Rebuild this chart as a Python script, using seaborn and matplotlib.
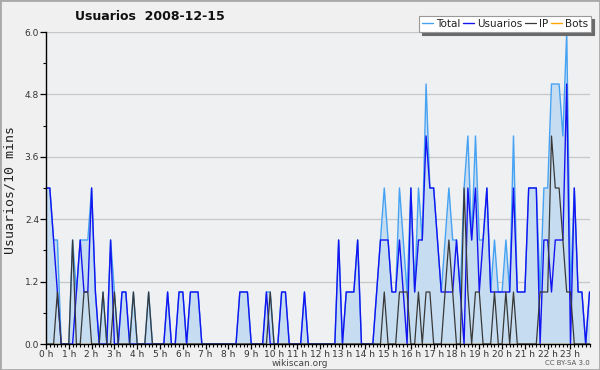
import matplotlib
matplotlib.use("Agg")
import numpy as np
import pandas as pd
import seaborn as sns
import matplotlib.pyplot as plt
from matplotlib.patches import Rectangle
from matplotlib.ticker import FixedLocator, MultipleLocator

# ---- data (users per 10-minute slot, 144 slots for the day) ----
hour_labels = [f"{h} h" for h in range(24)]

total = [3, 3, 2, 2, 0, 0, 0, 2, 1, 2, 2, 2, 3, 1, 0, 1, 0, 2, 1, 0, 1, 1, 0, 1,
         0, 0, 0, 1, 0, 0, 0, 0, 1, 0, 0, 1, 1, 0, 1, 1, 1, 0, 0, 0, 0, 0, 0, 0,
         0, 0, 0, 1, 1, 1, 0, 0, 0, 0, 1, 1, 0, 0, 1, 1, 0, 0, 0, 0, 1, 0, 0, 0,
         0, 0, 0, 0, 0, 2, 0, 1, 1, 1, 2, 0, 0, 0, 0, 1, 2, 3, 2, 1, 1, 3, 2, 1,
         3, 1, 3, 2, 5, 3, 3, 2, 1, 2, 3, 2, 2, 1, 3, 4, 2, 4, 2, 2, 3, 1, 2, 1,
         1, 2, 1, 4, 1, 1, 1, 3, 3, 3, 1, 3, 3, 5, 5, 5, 4, 6, 1, 3, 1, 1, 0, 1]

usuarios = [3, 3, 2, 1, 0, 0, 0, 0, 1, 2, 1, 1, 3, 1, 0, 0, 0, 2, 0, 0, 1, 1, 0, 0,
            0, 0, 0, 0, 0, 0, 0, 0, 1, 0, 0, 1, 1, 0, 1, 1, 1, 0, 0, 0, 0, 0, 0, 0,
            0, 0, 0, 1, 1, 1, 0, 0, 0, 0, 1, 0, 0, 0, 1, 1, 0, 0, 0, 0, 1, 0, 0, 0,
            0, 0, 0, 0, 0, 2, 0, 1, 1, 1, 2, 0, 0, 0, 0, 1, 2, 2, 2, 1, 1, 2, 1, 0,
            3, 1, 2, 2, 4, 3, 3, 2, 1, 1, 1, 1, 2, 1, 0, 3, 2, 3, 1, 2, 3, 1, 1, 1,
            1, 1, 1, 3, 1, 1, 1, 3, 3, 3, 0, 2, 2, 1, 2, 2, 2, 5, 0, 3, 1, 1, 0, 1]

ip = [0, 0, 0, 1, 0, 0, 0, 2, 0, 0, 1, 1, 0, 0, 0, 1, 0, 0, 1, 0, 0, 0, 0, 1,
      0, 0, 0, 1, 0, 0, 0, 0, 0, 0, 0, 0, 0, 0, 0, 0, 0, 0, 0, 0, 0, 0, 0, 0,
      0, 0, 0, 0, 0, 0, 0, 0, 0, 0, 0, 1, 0, 0, 0, 0, 0, 0, 0, 0, 0, 0, 0, 0,
      0, 0, 0, 0, 0, 0, 0, 0, 0, 0, 0, 0, 0, 0, 0, 0, 0, 1, 0, 0, 0, 1, 1, 1,
      0, 0, 1, 0, 1, 1, 0, 0, 0, 1, 2, 1, 0, 0, 3, 1, 0, 1, 1, 0, 0, 0, 1, 0,
      0, 1, 0, 1, 0, 0, 0, 0, 0, 0, 1, 1, 1, 4, 3, 3, 2, 1, 1, 0, 0, 0, 0, 0]

bots = [0, 0, 0, 0, 0, 0, 0, 0, 0, 0, 0, 0, 0, 0, 0, 0, 0, 0, 0, 0, 0, 0, 0, 0,
        0, 0, 0, 0, 0, 0, 0, 0, 0, 0, 0, 0, 0, 0, 0, 0, 0, 0, 0, 0, 0, 0, 0, 0,
        0, 0, 0, 0, 0, 0, 0, 0, 0, 0, 0, 0, 0, 0, 0, 0, 0, 0, 0, 0, 0, 0, 0, 0,
        0, 0, 0, 0, 0, 0, 0, 0, 0, 0, 0, 0, 0, 0, 0, 0, 0, 0, 0, 0, 0, 0, 0, 0,
        0, 0, 0, 0, 0, 0, 0, 0, 0, 0, 0, 0, 0, 0, 0, 0, 0, 0, 0, 0, 0, 0, 0, 0,
        0, 0, 0, 0, 0, 0, 0, 0, 0, 0, 0, 0, 0, 0, 0, 0, 0, 0, 0, 0, 0, 0, 0, 0]

slots = list(range(len(total)))
y_ticks = [0.0, 1.2, 2.4, 3.6, 4.8, 6.0]

df = pd.DataFrame({"slot": slots, "Total": total, "Usuarios": usuarios,
                   "IP": ip, "Bots": bots})

# ---- style ----
sns.set_theme(style="white")
plt.rcParams["font.family"] = ["DejaVu Sans"]

C_TOTAL = "#46a2f2"
C_FILL = "#c6ddf1"
C_USR = "#1414f0"
C_IP = "#383838"
C_BOTS = "#ffa500"

fig = plt.figure(figsize=(6, 3.7), dpi=100, facecolor="#f0f0f0")
ax = fig.add_axes([46 / 600, 26 / 370, 543.5 / 600, 312 / 370])
ax.set_facecolor("#eef0f2")

ax.fill_between(df["slot"], df["Total"], color=C_FILL, lw=0, zorder=1)
sns.lineplot(data=df, x="slot", y="Bots", color=C_BOTS, lw=1.0, ax=ax, zorder=1.2)
sns.lineplot(data=df, x="slot", y="Total", color=C_TOTAL, lw=1.0, ax=ax, zorder=2)
sns.lineplot(data=df, x="slot", y="Usuarios", color=C_USR, lw=1.0, ax=ax, zorder=3)
sns.lineplot(data=df, x="slot", y="IP", color=C_IP, lw=0.9, ax=ax, zorder=4)

lines = ax.get_lines()
h_bots, h_total, h_usr, h_ip = lines[0], lines[1], lines[2], lines[3]

ax.set_xlim(0, len(total) - 1)
ax.set_ylim(0, 6.0)
ax.set_xlabel("")
ax.set_ylabel("")

# axes / ticks
for s in ["top", "right"]:
    ax.spines[s].set_visible(False)
for s in ["left", "bottom"]:
    ax.spines[s].set_color("black")
    ax.spines[s].set_linewidth(1.0)
    ax.spines[s].set_zorder(6)

ax.xaxis.set_major_locator(FixedLocator([6 * h for h in range(24)]))
ax.set_xticklabels(hour_labels)
ax.xaxis.set_minor_locator(MultipleLocator(1))
ax.set_yticks(y_ticks)
ax.set_yticklabels([f"{v:.1f}" for v in y_ticks])
ax.yaxis.set_minor_locator(MultipleLocator(0.6))

ax.tick_params(axis="x", which="major", direction="out", length=3.5, width=0.9,
               color="black", labelsize=6.5, pad=0.5, labelcolor="#333333")
ax.tick_params(axis="x", which="minor", direction="out", length=2.2, width=0.8,
               color="black")
ax.tick_params(axis="y", which="major", direction="out", length=4, width=0.9,
               color="black", labelsize=6.5, pad=1, labelcolor="#333333")
ax.tick_params(axis="y", which="minor", direction="out", length=2, width=0.8,
               color="black")
ax.tick_params(bottom=True, left=True, which="both")

ax.yaxis.grid(True, which="major", color="#c8c8c8", lw=0.9)
ax.set_axisbelow(True)

# legend
leg = ax.legend([h_total, h_usr, h_ip, h_bots], ["Total", "Usuarios", "IP", "Bots"],
                ncol=4, loc="upper right", bbox_to_anchor=(591 / 600, 1 - 16 / 370),
                bbox_transform=fig.transFigure, fontsize=7.5, frameon=True,
                fancybox=False, shadow={"color": "#6a6a6a", "alpha": 1},
                handlelength=1.0, handletextpad=0.3, columnspacing=0.3,
                borderpad=0.3, borderaxespad=0)
leg.get_frame().set_edgecolor("#999999")
leg.get_frame().set_facecolor("white")
leg.get_frame().set_linewidth(0.8)
for t in leg.get_texts():
    t.set_color("#222222")

# texts
fig.text(75 / 600, 1 - 17 / 370, "Usuarios  2008-12-15", fontsize=9,
         fontweight="bold", ha="left", va="center", color="#111111")
fig.text(10 / 600, 1 - 190 / 370, "Usuarios/10 mins", rotation=90, fontsize=9.5,
         family="DejaVu Sans Mono", ha="center", va="center", color="#222222")
fig.text(0.5, 1 - 363 / 370, "wikiscan.org", fontsize=6.5, ha="center",
         va="center", color="#444444")
fig.text(590 / 600, 1 - 363 / 370, "CC BY-SA 3.0", fontsize=5, ha="right",
         va="center", color="#555555")

fig.patches.append(Rectangle((0, 0), 1, 1, transform=fig.transFigure, fill=False,
                             ec="#a9a9a9", lw=2.0, zorder=10))

fig.savefig("out.png", dpi=100, facecolor=fig.get_facecolor())
